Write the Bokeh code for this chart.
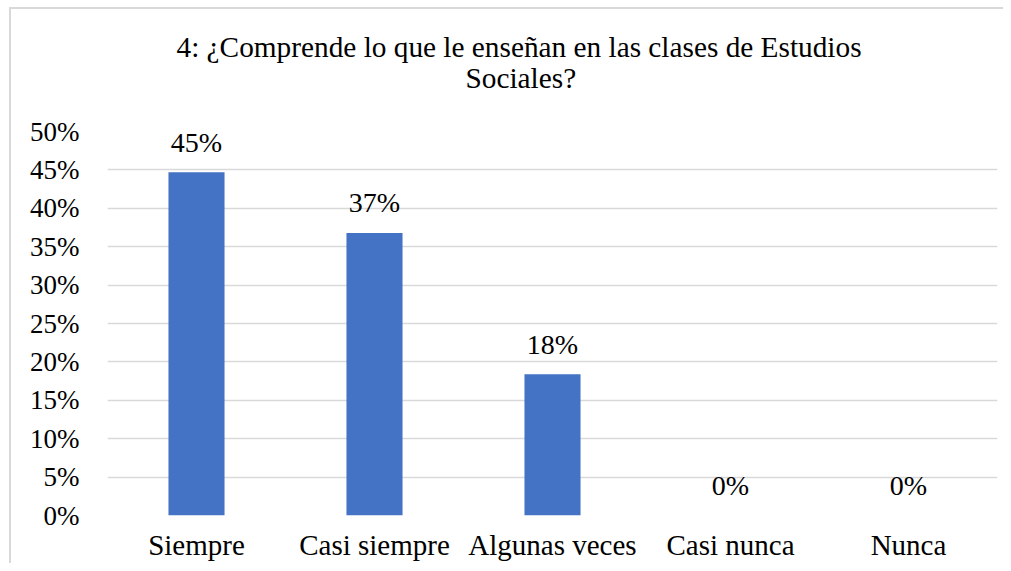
from bokeh.plotting import figure
from bokeh.models import ColumnDataSource, FactorRange, Range1d, NumeralTickFormatter, Title, SingleIntervalTicker
from bokeh.core.properties import value
from bokeh.embed import file_html
from bokeh.resources import INLINE

categories = ["Siempre", "Casi siempre", "Algunas veces", "Casi nunca", "Nunca"]
values = [0.447, 0.368, 0.184, 0.0, 0.0]
labels = ["45%", "37%", "18%", "0%", "0%"]
title_line1 = "4: ¿Comprende lo que le enseñan en las clases de Estudios"
title_line2 = "Sociales?"

FONT = "Liberation Serif"

source = ColumnDataSource(data=dict(cat=categories, val=values, lab=labels))

p = figure(
    width=1003, height=563,
    x_range=FactorRange(factors=categories, range_padding=0),
    y_range=Range1d(0, 0.5),
    output_backend="svg", toolbar_location=None,
    min_border_left=107, min_border_right=6, min_border_top=131, min_border_bottom=48,
)
p.styles = {"box-shadow": "inset 9px 7px 0 0 #ffffff, inset 11px 9px 0 0 #d9d9d9"}
p.border_fill_alpha = 0
p.background_fill_color = "white"
p.outline_line_color = None

p.vbar(x="cat", top="val", width=0.315, source=source,
       fill_color="#4472C4", line_color=None)
p.text(x="cat", y="val", text="lab", source=source, text_align="center",
       text_baseline="alphabetic", y_offset=-30, text_font=value(FONT),
       text_font_size="28px", text_color="#000000")

# two-line title (nearest panel first)
p.add_layout(Title(text=title_line2, align="left", offset=358, text_font=FONT,
                   text_font_size="29.3px", text_font_style="normal", text_color="#000000",
                   standoff=75), "above")
p.add_layout(Title(text=title_line1, align="left", offset=69, text_font=FONT,
                   text_font_size="29.3px", text_font_style="normal", text_color="#000000",
                   standoff=-80), "above")

p.yaxis.ticker = SingleIntervalTicker(interval=0.05)
p.yaxis.formatter = NumeralTickFormatter(format="0%")
for ax in (p.xaxis, p.yaxis):
    ax.axis_line_color = None
    ax.major_tick_line_color = None
    ax.minor_tick_line_color = None
    ax.major_tick_out = 0
    ax.major_tick_in = 0
    ax.minor_tick_out = 0
    ax.major_label_text_font = FONT
    ax.major_label_text_color = "#000000"
p.yaxis.major_label_text_font_size = "27px"
p.yaxis.major_label_standoff = 28
p.xaxis.major_label_text_font_size = "29px"
p.xaxis.major_label_standoff = 13

p.xgrid.grid_line_color = None
p.ygrid.grid_line_color = "#d9d9d9"
p.ygrid.grid_line_width = 1.5

open("out.html", "w").write(file_html(p, INLINE))
